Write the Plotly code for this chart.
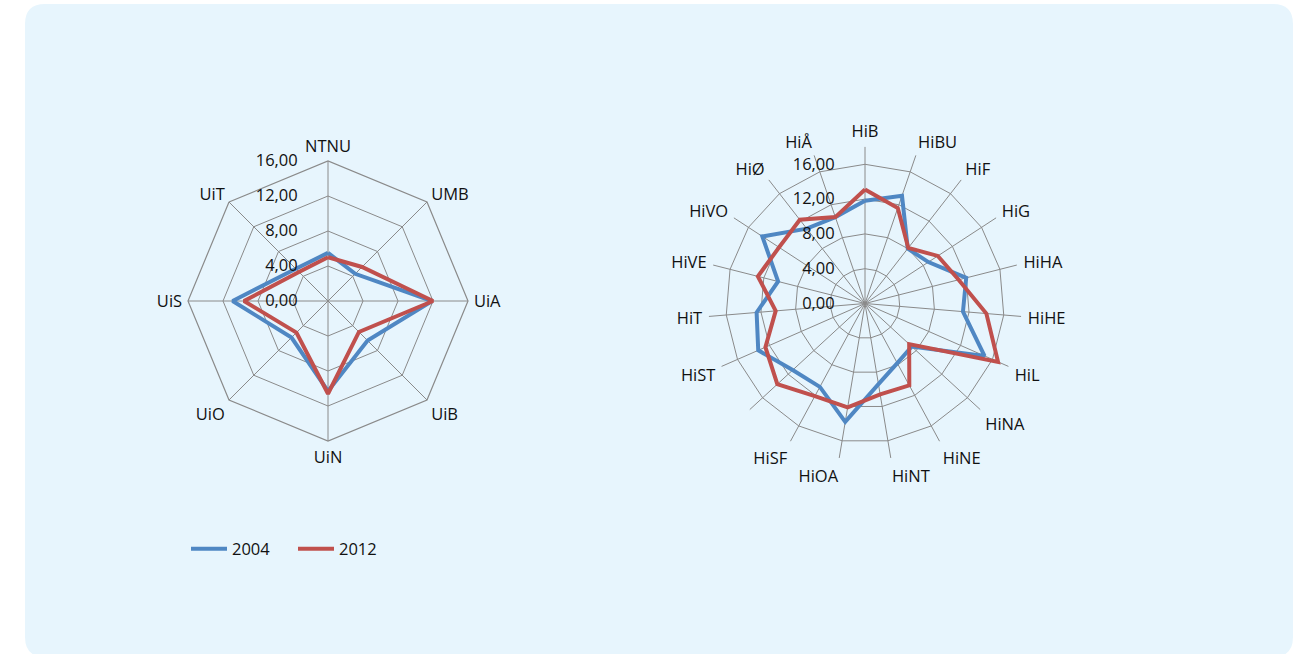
import plotly.graph_objects as go

W, H = 1297, 654

# ---------------- data ----------------
univ_categories = ["NTNU", "UMB", "UiA", "UiB", "UiN", "UiO", "UiS", "UiT"]
univ_2004 = [5.5, 4.4, 11.9, 6.4, 10.3, 5.9, 10.9, 5.2]
univ_2012 = [5.0, 5.5, 12.0, 5.0, 10.6, 5.1, 9.6, 4.7]

coll_categories = ["HiB", "HiBU", "HiF", "HiG", "HiHA", "HiHE", "HiL", "HiNA",
                   "HiNE", "HiNT", "HiOA", "HiSF", " ", "HiST", "HiT", "HiVE",
                   "HiVO", "HiØ", "HiÅ"]
coll_2004 = [11.8, 13.1, 8.0, 8.7, 12.0, 11.3, 15.0, 7.3, 7.8, 9.4, 13.8,
             10.9, 11.3, 13.4, 12.5, 10.3, 14.1, 10.9, 10.5]
coll_2012 = [13.1, 11.6, 8.1, 10.0, 11.1, 14.0, 16.7, 6.9, 10.7, 10.6, 12.1,
             12.1, 13.7, 12.5, 10.3, 12.7, 11.8, 12.2, 10.5]

radial_ticks = [0, 4, 8, 12, 16]
series_names = ["2004", "2012"]
series_colors = ["#4F87C3", "#C0504D"]

FONT = "Open Sans"
TXT = "#111111"
GRID = "#8a8a8a"
BG = "rgb(231,245,253)"
FS = 16.5


def closed(lst):
    return list(lst) + list(lst[:1])


fig = go.Figure()
for name, color, vals in zip(series_names, series_colors, [univ_2004, univ_2012]):
    fig.add_trace(go.Scatterpolar(
        r=closed(vals), theta=closed(univ_categories), mode="lines",
        name=name, line=dict(color=color, width=4), subplot="polar",
        legendgroup=name, hoverinfo="skip"))
for name, color, vals in zip(series_names, series_colors, [coll_2004, coll_2012]):
    fig.add_trace(go.Scatterpolar(
        r=closed(vals), theta=closed(coll_categories), mode="lines",
        name=name, line=dict(color=color, width=4), subplot="polar2",
        legendgroup=name, showlegend=False, hoverinfo="skip"))


def px_domain(cx, cy, rad):
    return dict(x=[(cx - rad) / W, (cx + rad) / W],
                y=[1 - (cy + rad) / H, 1 - (cy - rad) / H])


def radial(rmax):
    return dict(range=[0, rmax], tickvals=radial_ticks, tickformat=".2f",
                angle=90, side="counterclockwise", showline=False,
                gridcolor=GRID, gridwidth=1.2, ticks="outside", ticklen=24,
                tickcolor="rgba(0,0,0,0)", tickangle=90,
                tickfont=dict(family=FONT, size=FS, color=TXT))


def angular(showline, pad):
    return dict(rotation=90, direction="clockwise", gridcolor=GRID,
                gridwidth=1.2, showline=showline, linecolor=GRID, linewidth=1.2,
                ticks="outside", ticklen=pad, tickcolor="rgba(0,0,0,0)",
                tickfont=dict(family=FONT, size=FS, color=TXT))


fig.update_layout(
    width=W, height=H,
    margin=dict(l=0, r=0, t=0, b=0),
    paper_bgcolor="white", plot_bgcolor="white",
    separators=", ",
    font=dict(family=FONT, size=FS, color=TXT),
    polar=dict(domain=px_domain(328, 301, 140), gridshape="linear",
               bgcolor="rgba(0,0,0,0)",
               radialaxis=radial(16), angularaxis=angular(True, 2)),
    polar2=dict(domain=px_domain(865, 303.5, 156.6), gridshape="linear",
                bgcolor="rgba(0,0,0,0)",
                radialaxis=radial(18), angularaxis=angular(False, 3)),
    legend=dict(orientation="h", x=186 / W, y=1 - 549 / H,
                xanchor="left", yanchor="middle",
                itemwidth=36, entrywidth=56, entrywidthmode="pixels",
                bgcolor="rgba(0,0,0,0)",
                font=dict(family=FONT, size=FS, color=TXT)),
)


# rounded light-blue panel
def X(px):
    return px / W


def Y(py):
    return 1 - py / H


x0, y0, x1, y1, rr = 25, 4, 1293, 657, 20
path = (f"M {X(x0+rr)},{Y(y0)} L {X(x1-rr)},{Y(y0)} Q {X(x1)},{Y(y0)} {X(x1)},{Y(y0+rr)} "
        f"L {X(x1)},{Y(y1-rr)} Q {X(x1)},{Y(y1)} {X(x1-rr)},{Y(y1)} "
        f"L {X(x0+rr)},{Y(y1)} Q {X(x0)},{Y(y1)} {X(x0)},{Y(y1-rr)} "
        f"L {X(x0)},{Y(y0+rr)} Q {X(x0)},{Y(y0)} {X(x0+rr)},{Y(y0)} Z")
fig.add_shape(type="path", path=path, xref="paper", yref="paper",
              fillcolor=BG, line=dict(width=0), layer="below")

fig.write_html("out.html",
               config={"displayModeBar": False},
               post_script="document.body.style.margin='0px';"
                           "document.body.style.overflow='hidden';")
